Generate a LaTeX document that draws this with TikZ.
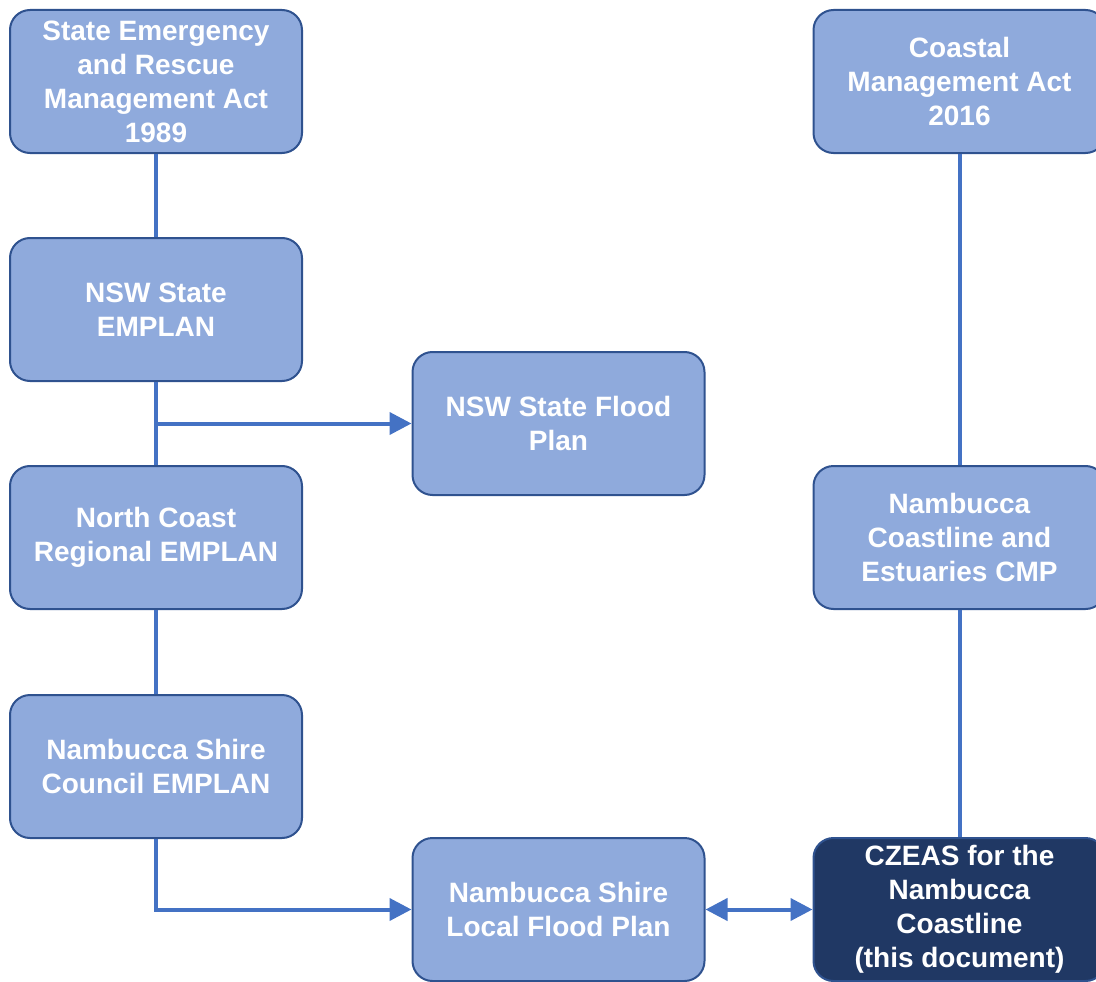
\documentclass[tikz,border=0pt]{standalone}
\usepackage{fontspec}
\setmainfont{Liberation Sans}
\usepackage{tikz}
\usetikzlibrary{positioning,arrows.meta}
\tikzstyle{planChart} = [x = 1pt, y = -1pt]
\definecolor{boxFill}{HTML}{8FAADC}
\definecolor{boxBorder}{HTML}{2F528F}
\definecolor{lineColor}{HTML}{4472C4}
\definecolor{thisDocFill}{HTML}{203864}
\tikzstyle{planBox} = [draw=boxBorder, fill=boxFill, line width=2pt, rounded corners=20pt, minimum width=292pt, minimum height=143pt, align=center, text=white, font=\fontsize{28}{34}\selectfont\bfseries, inner sep=0pt]
\tikzstyle{thisDocBox} = [planBox, fill=thisDocFill]
\tikzstyle{linkLine} = [color=lineColor, line width=4pt]
\tikzstyle{arrowLine} = [linkLine, -{Triangle[length=22pt, width=22pt]}]
\tikzstyle{doubleArrowLine} = [linkLine, {Triangle[length=22pt, width=22pt]}-{Triangle[length=22pt, width=22pt]}]

\begin{document}
\begin{tikzpicture}[planChart]
    \useasboundingbox (0,0) rectangle (1096,982);
    \clip (0,0) rectangle (1096,982);
    % left column
    \node [planBox] (rescueAct) at (156,81.5) {State Emergency\\and Rescue\\Management Act\\1989};
    \node [planBox] (stateEmplan) at (156,309.5) {NSW State\\EMPLAN};
    \node [planBox] (regionalEmplan) at (156,537.5) {North Coast\\Regional EMPLAN};
    \node [planBox] (councilEmplan) at (156,766.5) {Nambucca Shire\\Council EMPLAN};
    % middle column
    \node [planBox] (stateFlood) at (558.5,423.5) {NSW State Flood\\Plan};
    \node [planBox] (localFlood) at (558.5,909.5) {Nambucca Shire\\Local Flood Plan};
    % right column
    \node [planBox] (coastalAct) at (959.5,81.5) {Coastal\\Management Act\\2016};
    \node [planBox] (coastlineCmp) at (959.5,537.5) {Nambucca\\Coastline and\\Estuaries CMP};
    \node [thisDocBox] (czeas) at (959.5,909.5) {CZEAS for the\\Nambucca\\Coastline\\(this document)};
    % links
    \draw [linkLine] (rescueAct) -- (stateEmplan);
    \draw [linkLine] (stateEmplan) -- (regionalEmplan);
    \draw [linkLine] (regionalEmplan) -- (councilEmplan);
    \draw [arrowLine] (stateEmplan.south |- stateFlood.west) -- (stateFlood.west);
    \draw [arrowLine] (councilEmplan.south) |- (localFlood.west);
    \draw [doubleArrowLine] (localFlood.east) -- (czeas.west);
    \draw [linkLine] (coastalAct) -- (coastlineCmp);
    \draw [linkLine] (coastlineCmp) -- (czeas);
\end{tikzpicture}
\end{document}
